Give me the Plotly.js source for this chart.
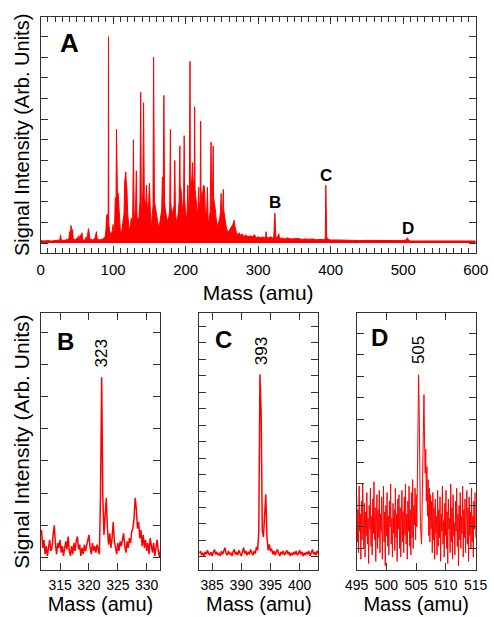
<!DOCTYPE html>
<html>
<head>
<meta charset="utf-8">
<script src="https://cdn.plot.ly/plotly-3.0.1.min.js"></script>
<style>html,body{margin:0;padding:0;background:#fff;}#chart{width:494px;height:617px;}</style>
</head>
<body>
<div id="chart"></div>
<script>
// ---- Panel A: full spectrum (mass in amu, intensity in arb. units) ----
const topMass = [
  0,5,10,15,20,25,26.5,27.5,28.5,32,36,39,40,41,42,43,44,45,48,50,51,52,53,55,56,57,58,61,63,64,66,67,68,72,75,77,78,82,86,89,
  90,91,92,93.2,93.6,94,95,97,99,100,101,102,103,104,104.6,105,106,107,108,109,110,112,113,114,115,116,117,117.5,118,119,120,121,122,
  124,125,126,127,128,128.5,129,130,131,132,132.5,133,134,135,136,137,138,138.5,139,140,141,142,142.5,143,144,145,146,147,148,149,150,
  151,152,153,154,155,155.8,156.3,157,158,159,160,161,162,163,164,165,166,167,168,169,170,170.5,171,172,173,174,175,176,177,178,179,179.5,
  180,181,182,183,184,185,185.5,186,187,188,189,190,191,192,192.5,193,194,195,196,197,198,198.5,199,200,201,202,203,203.5,204,205,206,206.5,
  207,208,209,209.7,210,211,212,212.4,213,214,215,216,217,218,218.5,219,220,220.7,221.2,222,223,224,225,226,226.5,227,228,229,230,230.5,
  231,232,233,234,235,235.5,236,237,238,238.5,239,240,241,242,243,244,245,246,247,248,249,249.5,250,251,252,252.5,253,254,255,256,257,258,
  260,262,264,265,266,267,268,269,270,272,274,276,278,280,283,286,289,292,295,297,300,303,306,309,310.5,311,311.5,314,317,320,321.5,323,
  323.7,324.5,326,328.5,329.5,332,336,340,345,350,355,360,365,370,375,380,385,390,392.5,393.3,393.8,394.5,395.5,400,410,420,430,440,450,
  460,470,480,490,500,504,505,506,507,510,520,530,540,550,560,570,580,590,600
];
const topIntensity = [
  0.12,0.1,0.12,0.1,0.12,0.12,0.15,0.4,0.15,0.12,0.15,0.2,0.55,0.5,0.85,0.4,0.65,0.2,0.15,0.25,0.15,0.35,0.2,0.4,0.25,0.5,0.15,0.15,0.3,0.2,0.7,0.3,0.2,0.15,0.25,0.55,0.2,0.15,0.2,0.3,
  0.6,1.3,1.4,1.2,10,1.0,0.6,0.4,0.6,0.9,0.5,0.8,2.2,2.0,5.5,2.4,2.3,2.4,1.6,1.0,0.5,0.6,0.9,1.0,1.4,3.0,3.2,3.45,3.0,2.6,1.5,1.0,0.6,
  0.9,1.2,1.0,1.2,5.0,1.3,1.1,1.4,1.8,3.5,1.5,1.0,1.2,1.0,1.5,2.0,7.3,2.2,1.5,1.8,2.5,6.8,2.5,2.2,2.0,1.8,2.8,1.5,1.8,2.0,2.9,
  1.2,0.9,1.0,1.3,1.8,9.0,2.2,2.0,1.8,1.6,1.2,1.0,0.8,0.7,0.9,1.1,1.3,1.6,3.2,2.0,7.15,2.4,2.0,1.6,1.4,1.2,1.0,1.2,1.3,1.6,5.5,2.0,
  1.5,1.3,1.5,1.6,1.8,4.0,1.8,1.4,1.2,1.0,1.2,1.5,2.0,4.7,2.5,2.7,2.5,1.8,1.4,1.5,5.2,2.2,1.6,1.4,1.2,1.5,2.8,2.0,1.7,2.0,8.8,3.0,
  2.6,2.8,3.5,3.9,3.2,2.8,3.0,6.6,2.6,2.2,1.8,1.5,1.6,2.7,2.0,1.8,2.0,5.9,2.5,2.4,2.2,2.6,2.8,2.7,2.0,1.6,1.4,1.5,2.7,1.5,
  1.2,1.0,1.2,1.6,4.9,2.0,1.8,2.0,4.7,2.2,2.1,1.9,1.6,1.2,0.9,0.8,0.9,1.0,1.2,1.5,2.4,1.6,1.4,1.5,2.6,1.6,1.4,1.2,1.0,0.8,0.6,0.5,
  0.6,0.7,0.8,0.9,1.0,1.1,0.8,0.6,0.5,0.4,0.5,0.35,0.45,0.3,0.4,0.3,0.35,0.3,0.4,0.25,0.3,0.25,0.3,0.25,0.35,0.55,0.3,0.25,0.3,0.25,0.3,1.45,
  0.4,0.3,0.25,0.45,0.2,0.25,0.2,0.25,0.2,0.2,0.22,0.18,0.2,0.18,0.2,0.16,0.18,0.16,0.2,2.8,0.9,0.3,0.2,0.15,0.15,0.13,0.13,0.12,0.13,
  0.12,0.12,0.12,0.12,0.12,0.15,0.22,0.25,0.15,0.1,0.1,0.1,0.1,0.1,0.1,0.1,0.1,0.1,0.1
];
const topTickLabels = ['0','100','200','300','400','500','600'];

// ---- Panel B: zoom around 323 amu (sampled every 0.2 amu from 311.6) ----
const bStart = 311.6, bStep = 0.2;
const bIntensity = [
  0.7,0.85,0.3,0.55,0.1,0.35,0.05,0.4,0.55,0.2,
  0.3,0.7,1.0,0.4,0.1,0.45,0.3,0.55,0.15,0.35,
  0.05,0.3,0.5,0.25,0.65,0.2,0.05,0.35,0.1,0.45,
  0.2,0.5,0.65,0.25,0.4,0.05,0.3,0.1,0.4,0.2,
  0.35,0.55,0.7,0.3,0.1,0.45,0.2,0.35,0.15,0.4,
  0.2,0.1,1.9,5.6,1.9,0.7,1.3,1.85,0.9,0.4,
  0.75,0.3,0.6,1.1,0.5,0.3,0.1,0.45,0.2,0.5,
  0.35,0.55,0.75,0.35,0.15,0.5,0.3,0.6,0.45,0.8,
  0.9,1.2,1.85,1.5,0.9,1.1,0.6,0.85,0.35,0.7,
  0.3,0.55,0.2,0.45,0.1,0.6,0.35,0.15,0.45,0.05,
  0.3,0.55,0.2,0.0,0.25
];

// ---- Panel C: zoom around 393 amu (sampled every 0.2 amu from 382.8) ----
const cStart = 382.8, cStep = 0.2;
const cIntensity = [
  0.2,0.35,0.1,0.25,0.05,0.3,0.15,0.4,0.2,0.1,
  0.3,0.05,0.25,0.45,0.15,0.3,0.1,0.2,0.05,0.35,
  0.15,0.3,0.55,0.2,0.1,0.35,0.15,0.25,0.05,0.3,
  0.45,0.15,0.3,0.1,0.4,0.2,0.05,0.3,0.55,0.2,
  0.35,0.1,0.3,0.15,0.45,0.25,0.1,0.35,0.2,0.6,
  0.4,1.5,11.1,8.8,1.6,1.2,2.2,3.8,1.2,0.4,
  0.75,0.35,0.5,0.15,0.35,0.1,0.3,0.45,0.2,0.05,
  0.3,0.15,0.35,0.1,0.25,0.4,0.15,0.3,0.05,0.25,
  0.1,0.3,0.15,0.35,0.1,0.2,0.4,0.15,0.3,0.05,
  0.25,0.1,0.3,0.15,0.35,0.05,0.25,0.45,0.15,0.3,
  0.1,0.35,0.2
];

// ---- Panel D: zoom around 505 amu (sampled every 0.1 amu from 495) ----
const dStart = 495, dStep = 0.1;
const dIntensity = [
  2.4,0.3,1.8,-0.2,2.9,0.8,1.6,-0.5,2.2,0.4,
  3.0,1.0,0.0,2.1,-0.4,1.7,0.6,2.6,0.2,1.4,
  -0.7,2.0,0.9,2.8,0.1,1.5,-0.3,2.3,0.7,3.1,
  0.4,1.9,-0.6,1.2,2.5,0.0,1.8,0.5,2.7,-0.2,
  1.6,0.8,2.4,-0.5,1.3,2.9,0.3,1.7,-0.8,2.0,
  0.6,2.6,0.1,1.5,-0.3,2.2,1.0,3.0,0.2,1.4,
  -0.4,2.1,0.7,1.8,-0.1,2.8,0.5,1.6,-0.6,2.3,
  0.9,2.5,0.0,1.9,-0.4,1.2,2.7,0.3,1.7,-0.2,
  2.4,0.6,3.0,0.2,1.6,-0.5,2.2,0.8,2.9,0.1,
  1.8,-0.3,2.6,0.5,3.2,0.0,2.0,1.1,2.8,0.4,
  2.5,1.0,3.0,5.8,8.07,6.5,2.5,1.2,0.6,0.2,
  2.0,4.5,6.5,7.15,5.0,3.5,4.6,2.2,3.8,1.5,
  3.2,0.6,2.8,0.3,2.5,0.9,2.2,-0.2,2.6,0.4,
  1.9,-0.5,2.3,0.7,1.5,-0.3,2.7,0.1,1.8,0.5,
  2.4,-0.6,1.6,0.8,2.9,0.2,1.3,-0.4,2.1,0.6,
  2.7,0.0,1.7,-0.7,2.3,0.9,1.4,-0.2,3.0,0.3,
  1.9,-0.5,2.5,0.6,1.2,-0.3,2.2,0.8,2.8,0.1,
  1.6,-0.8,2.0,0.4,2.6,0.0,1.5,0.7,2.9,-0.4,
  1.8,0.5,2.3,-0.2,1.4,2.7,0.2,1.9,-0.6,2.4,
  0.6,1.7,0.0,2.8,0.3,1.5,-0.4,2.2,0.9,2.6,
  0.5
];

// Peak labels
const panelLetters = ['A','B','C','D'];
const peakLabels = ['323','393','505'];

const RED = '#ff0000';
const AX = '#333333';
const FONT = 'Liberation Sans, Arial, Helvetica, sans-serif';

const traces = [
  {x: topMass, y: topIntensity, xaxis:'x', yaxis:'y', type:'scatter', mode:'lines',
   line:{color:RED, width:1}, fill:'tozeroy', fillcolor:RED, hoverinfo:'x+y'},
  {x0: bStart, dx: bStep, y: bIntensity, xaxis:'x2', yaxis:'y2', type:'scatter', mode:'lines',
   line:{color:RED, width:1.5}},
  {x0: cStart, dx: cStep, y: cIntensity, xaxis:'x3', yaxis:'y3', type:'scatter', mode:'lines',
   line:{color:RED, width:1.5}},
  {x0: dStart, dx: dStep, y: dIntensity, xaxis:'x4', yaxis:'y4', type:'scatter', mode:'lines',
   line:{color:RED, width:1}}
];

function xAx(domain, range, dtick, minorDtick, anchor, fs, tfs, standoff, labelStandoff) {
  const a = {
    domain: domain, range: range, anchor: anchor,
    tickmode:'linear', tick0:0, dtick:dtick,
    ticks:'inside', ticklen:7, tickwidth:1, tickcolor:AX,
    ticklabelstandoff: labelStandoff,
    showline:true, linecolor:AX, linewidth:1, mirror:'allticks',
    showgrid:false, zeroline:false, fixedrange:true,
    tickfont:{family:FONT, size:fs, color:'#000'},
    title:{text:'Mass (amu)', font:{family:FONT, size:tfs, color:'#000'}, standoff:standoff}
  };
  if (minorDtick) a.minor = {dtick:minorDtick, ticks:'inside', ticklen:5, tickcolor:AX, showgrid:false};
  return a;
}
function yAx(domain, range, anchor, withTitle, tfs) {
  const a = {
    domain: domain, range: range, anchor: anchor,
    tickmode:'linear', tick0:0, dtick:1,
    ticks:'inside', ticklen:7, tickwidth:1, tickcolor:AX,
    showline:true, linecolor:AX, linewidth:1, mirror:'allticks',
    showticklabels:false, showgrid:false, zeroline:false, fixedrange:true
  };
  if (withTitle) a.title = {text:'Signal Intensity (Arb. Units)', font:{family:FONT, size:tfs, color:'#000'}, standoff:4};
  return a;
}

const layout = {
  width:494, height:617,
  margin:{l:0, r:0, t:0, b:0},
  paper_bgcolor:'#fff', plot_bgcolor:'#fff',
  showlegend:false,
  font:{family:FONT, color:'#000'},
  xaxis:  xAx([0.0822, 0.963], [0, 600], 100, 10, 'y', 15, 21, 8, 3),
  yaxis:  yAx([0.590, 0.9729], [-0.48, 10.96], 'x', true, 20),
  xaxis2: xAx([0.083, 0.3239], [311.7, 332.3], 5, null, 'y2', 14, 20, 1, 2),
  yaxis2: yAx([0.0762, 0.4922], [-0.39, 7.59], 'x2', true, 21),
  xaxis3: xAx([0.4034, 0.6443], [382.8, 403.2], 5, null, 'y3', 14, 20, 1, 2),
  yaxis3: yAx([0.0762, 0.4922], [-0.8, 14.8], 'x3', false),
  xaxis4: xAx([0.7221, 0.963], [495, 515], 5, null, 'y4', 14, 20, 1, 2),
  yaxis4: yAx([0.0762, 0.4922], [-1.0, 10.93], 'x4', false),
  annotations: [
    {text:'<b>'+panelLetters[0]+'</b>', x:39.5, y:9.7, xref:'x', yref:'y', showarrow:false, font:{family:FONT, size:26, color:'#000'}},
    {text:'<b>'+panelLetters[1]+'</b>', x:323, y:1.95, xref:'x', yref:'y', showarrow:false, font:{family:FONT, size:17, color:'#000'}},
    {text:'<b>'+panelLetters[2]+'</b>', x:393, y:3.26, xref:'x', yref:'y', showarrow:false, font:{family:FONT, size:17, color:'#000'}},
    {text:'<b>'+panelLetters[3]+'</b>', x:506, y:0.69, xref:'x', yref:'y', showarrow:false, font:{family:FONT, size:17, color:'#000'}},
    {text:'<b>'+panelLetters[1]+'</b>', x:316.0, y:6.72, xref:'x2', yref:'y2', showarrow:false, font:{family:FONT, size:24, color:'#000'}},
    {text:'<b>'+panelLetters[2]+'</b>', x:387.0, y:13.2, xref:'x3', yref:'y3', showarrow:false, font:{family:FONT, size:24, color:'#000'}},
    {text:'<b>'+panelLetters[3]+'</b>', x:498.8, y:9.79, xref:'x4', yref:'y4', showarrow:false, font:{family:FONT, size:24, color:'#000'}},
    {text:peakLabels[0], x:322.2, y:6.33, xref:'x2', yref:'y2', textangle:-90, showarrow:false, font:{family:FONT, size:17, color:'#000'}},
    {text:peakLabels[1], x:393.4, y:12.5, xref:'x3', yref:'y3', textangle:-90, showarrow:false, font:{family:FONT, size:17, color:'#000'}},
    {text:peakLabels[2], x:505.3, y:9.22, xref:'x4', yref:'y4', textangle:-90, showarrow:false, font:{family:FONT, size:17, color:'#000'}}
  ]
};

Plotly.newPlot('chart', traces, layout, {displayModeBar:false, staticPlot:true});
</script>
</body>
</html>
